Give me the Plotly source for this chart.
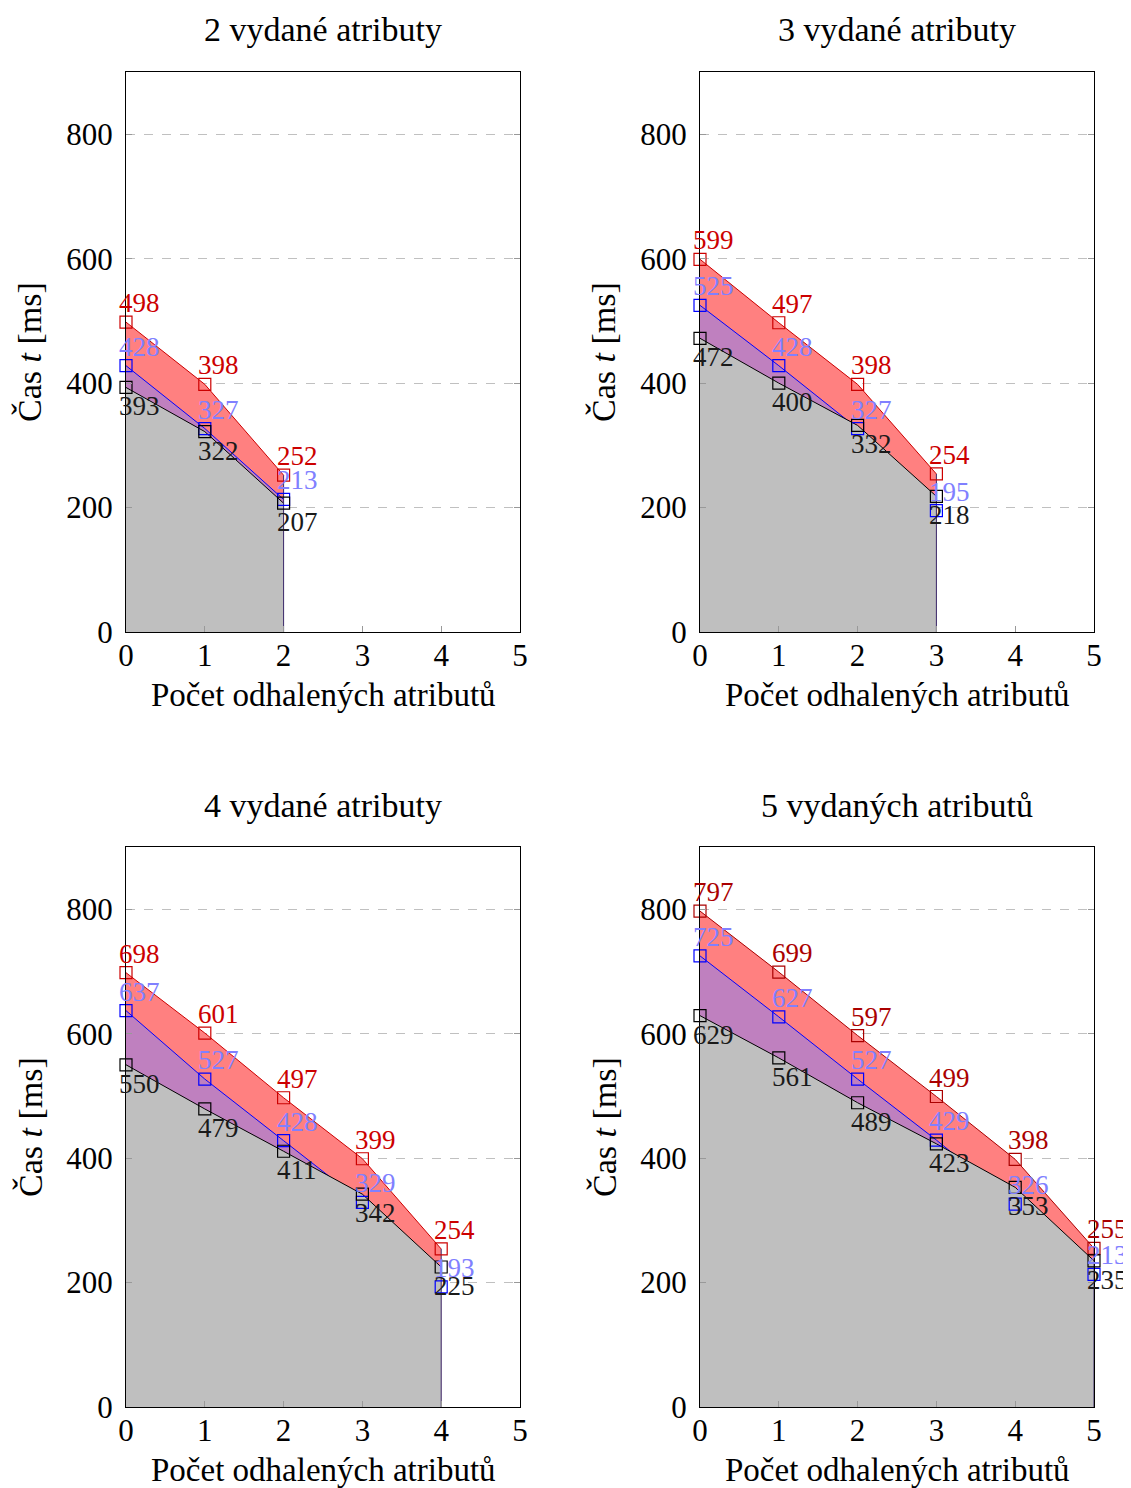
import plotly.graph_objects as go

# ---------------- data ----------------
panel_titles = ["2 vydané atributy", "3 vydané atributy", "4 vydané atributy", "5 vydaných atributů"]
x_counts = [[0, 1, 2], [0, 1, 2, 3], [0, 1, 2, 3, 4], [0, 1, 2, 3, 4, 5]]
red_vals = [[498, 398, 252],
            [599, 497, 398, 254],
            [698, 601, 497, 399, 254],
            [797, 699, 597, 499, 398, 255]]
blue_vals = [[428, 327, 213],
             [525, 428, 327, 195],
             [637, 527, 428, 329, 193],
             [725, 627, 527, 429, 326, 213]]
black_vals = [[393, 322, 207],
              [472, 400, 332, 218],
              [550, 479, 411, 342, 225],
              [629, 561, 489, 423, 353, 235]]
x_ticks = [0, 1, 2, 3, 4, 5]
y_ticks = [0, 200, 400, 600, 800]
x_title = "Počet odhalených atributů"
y_title = "Čas <i>t</i> [ms]"

# ---------------- style ----------------
OFF = 8  # default page body margin
W, H = 1131 - OFF, 1488 - OFF
FONT = "Liberation Serif"
red_line = ["#cc0000", "#cc0000", "#cc0000", "#aa0000"]
red_fill = "#ff8080"
blue_line = "#0000ff"
blue_fill = "#bf80bf"
black_line = "#000000"
black_fill = "#bfbfbf"
blue_text = "#8080ff"
black_text = "#1a1a1a"

# plot areas in page pixels
px_x = [(126, 520), (700, 1094), (126, 520), (700, 1094)]
px_y = [(72, 632), (72, 632), (847, 1407), (847, 1407)]


def fx(p):
    return (p - OFF) / W


def fy(p):
    return (H - (p - OFF)) / H


fig = go.Figure()
annotations = []

for i in range(4):
    sx = "" if i == 0 else str(i + 1)
    xa, ya = "x" + sx, "y" + sx
    xs = x_counts[i]
    series = [(red_vals[i], red_line[i], red_fill),
              (blue_vals[i], blue_line, blue_fill),
              (black_vals[i], black_line, black_fill)]
    # filled areas + lines
    for vals, lc, fc in series:
        fig.add_trace(go.Scatter(x=xs, y=vals, xaxis=xa, yaxis=ya, mode="lines",
                                 line=dict(color=lc, width=1), fill="tozeroy",
                                 fillcolor=fc, showlegend=False, hoverinfo="skip"))
    # closing vertical edge at the last category
    fig.add_trace(go.Scatter(x=[xs[-1], xs[-1]], y=[0, max(red_vals[i][-1], blue_vals[i][-1], black_vals[i][-1])],
                             xaxis=xa, yaxis=ya, mode="lines",
                             line=dict(color="#3a2a6a", width=1), showlegend=False, hoverinfo="skip"))
    # markers on top
    for vals, lc, fc in series:
        fig.add_trace(go.Scatter(x=xs, y=vals, xaxis=xa, yaxis=ya, mode="markers",
                                 marker=dict(symbol="square-open", size=12, color=lc, line=dict(width=1.2, color=lc)),
                                 cliponaxis=False, showlegend=False, hoverinfo="skip"))
    # value labels
    for xv, v in zip(xs, red_vals[i]):
        annotations.append(dict(x=xv, y=v, xref=xa, yref=ya, text=str(v), showarrow=False,
                                xanchor="left", yanchor="bottom", xshift=-9, yshift=2,
                                font=dict(family=FONT, size=27, color=red_line[i])))
    for xv, v in zip(xs, blue_vals[i]):
        annotations.append(dict(x=xv, y=v, xref=xa, yref=ya, text=str(v), showarrow=False,
                                xanchor="left", yanchor="bottom", xshift=-9, yshift=2,
                                font=dict(family=FONT, size=27, color=blue_text)))
    for xv, v in zip(xs, black_vals[i]):
        annotations.append(dict(x=xv, y=v, xref=xa, yref=ya, text=str(v), showarrow=False,
                                xanchor="left", yanchor="top", xshift=-9, yshift=-2,
                                font=dict(family=FONT, size=27, color=black_text)))

    x0, x1 = px_x[i]
    y0, y1 = px_y[i]
    dom_x = [fx(x0), fx(x1)]
    dom_y = [fy(y1), fy(y0)]
    fig.update_layout(**{
        "xaxis" + sx: dict(domain=dom_x, range=[0, 5], tickvals=x_ticks, ticks="inside",
                           ticklen=6, tickcolor="#999999", showgrid=False, zeroline=False,
                           showline=True, linecolor="black", linewidth=1, mirror=True,
                           tickfont=dict(family=FONT, size=31, color="black"),
                           ticklabelstandoff=-4,
                           automargin=False, anchor=ya, fixedrange=True),
        "yaxis" + sx: dict(domain=dom_y, range=[0, 900], tickvals=y_ticks, ticks="inside",
                           ticklen=6, tickcolor="#999999", showgrid=True, gridcolor="#c0c0c0",
                           griddash="dash", gridwidth=1, zeroline=False,
                           showline=True, linecolor="black", linewidth=1, mirror="ticks",
                           tickfont=dict(family=FONT, size=31, color="black"),
                           ticklabelstandoff=6,
                           automargin=False, anchor=xa, fixedrange=True),
    })
    cx = fx((x0 + x1) / 2)
    # panel title
    annotations.append(dict(x=cx, y=fy(y0 - 42), xref="paper", yref="paper", text=panel_titles[i],
                            showarrow=False, xanchor="center", yanchor="middle",
                            font=dict(family=FONT, size=34, color="black")))
    # x title
    annotations.append(dict(x=cx, y=fy(y1 + 63), xref="paper", yref="paper", text=x_title,
                            showarrow=False, xanchor="center", yanchor="middle",
                            font=dict(family=FONT, size=33, color="black")))
    # y title
    annotations.append(dict(x=fx(x0 - 96), y=fy((y0 + y1) / 2), xref="paper", yref="paper",
                            text=y_title, showarrow=False, textangle=-90,
                            xanchor="center", yanchor="middle",
                            font=dict(family=FONT, size=34, color="black")))

fig.update_layout(width=W, height=H, margin=dict(l=0, r=0, t=0, b=0, autoexpand=False),
                  paper_bgcolor="white", plot_bgcolor="white",
                  annotations=annotations, showlegend=False)

fig.write_html("out.html")
